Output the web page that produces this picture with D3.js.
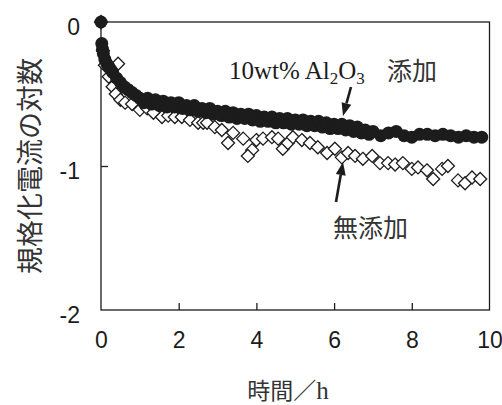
<!DOCTYPE html>
<html>
<head>
<meta charset="utf-8">
<script src="https://cdn.jsdelivr.net/npm/d3@7"></script>
<style>
  html, body { margin: 0; padding: 0; background: #fff; }
  svg { display: block; }
</style>
</head>
<body>
<svg id="chart" width="502" height="405"></svg>
<script>
// Normalized current (log) vs. time, with and without 10wt% Al2O3
const xTicks = [0, 2, 4, 6, 8, 10];
const yTicks = [0, -1, -2];

// 10wt% Al2O3 added (filled circles)
const aluminaTime = [0, 0.02, 0.04, 0.06, 0.1, 0.15, 0.2, 0.25, 0.3, 0.4, 0.5, 0.6, 0.7, 0.8, 0.9,
  1.0, 1.1, 1.2, 1.3, 1.4, 1.5, 1.6, 1.7, 1.8, 1.9,
  2.0, 2.1, 2.2, 2.3, 2.4, 2.5, 2.6, 2.7, 2.8, 2.9,
  3.0, 3.1, 3.2, 3.3, 3.4, 3.5, 3.6, 3.7, 3.8, 3.9,
  4.0, 4.1, 4.2, 4.3, 4.4, 4.5, 4.6, 4.7, 4.8, 4.9,
  5.0, 5.1, 5.2, 5.3, 5.4, 5.5, 5.6, 5.7, 5.8, 5.9,
  6.0, 6.1, 6.2, 6.3, 6.4, 6.5, 6.6, 6.7, 6.8, 6.9,
  7.0, 7.2, 7.4, 7.6, 7.8, 8.0, 8.2, 8.4, 8.6, 8.8, 9.0, 9.2, 9.4, 9.6, 9.8];
const aluminaValue = [0, -0.15, -0.19, -0.22, -0.26, -0.29, -0.31, -0.33, -0.35, -0.39, -0.42, -0.45, -0.47, -0.49, -0.51,
  -0.53, -0.56, -0.53, -0.57, -0.54, -0.58, -0.55, -0.59, -0.56, -0.59,
  -0.56, -0.60, -0.58, -0.61, -0.58, -0.62, -0.60, -0.63, -0.60, -0.64,
  -0.62, -0.65, -0.62, -0.66, -0.63, -0.67, -0.64, -0.67, -0.64, -0.68,
  -0.65, -0.69, -0.66, -0.69, -0.66, -0.70, -0.67, -0.70, -0.67, -0.71,
  -0.68, -0.71, -0.68, -0.72, -0.69, -0.72, -0.69, -0.73, -0.70, -0.74,
  -0.71, -0.74, -0.71, -0.75, -0.72, -0.76, -0.73, -0.77, -0.75, -0.78,
  -0.76, -0.79, -0.77, -0.76, -0.79, -0.80, -0.78, -0.78, -0.79, -0.78, -0.79, -0.80, -0.79, -0.80, -0.80];

// No additive (open diamonds)
const plainTime = [0, 0.05, 0.1, 0.2, 0.3, 0.44, 0.38, 0.5, 0.62, 0.8, 1.0, 1.19, 1.35, 1.57, 1.73, 1.9,
  2.08, 2.29, 2.5, 2.63, 2.73, 2.93, 3.11, 3.27, 3.4, 3.66, 3.89, 3.78, 4.0, 4.17, 4.4, 4.56, 4.68,
  4.81, 4.94, 5.17, 5.38, 5.58, 5.82, 6.02, 6.2, 6.36, 6.54, 6.74, 6.98, 7.18, 7.39, 7.57, 7.77,
  8.0, 8.16, 8.39, 8.55, 8.78, 8.93, 9.19, 9.37, 9.55, 9.76];
const plainValue = [0, -0.2, -0.3, -0.38, -0.45, -0.29, -0.50, -0.54, -0.56, -0.57, -0.61, -0.60, -0.63, -0.66, -0.65, -0.66,
  -0.66, -0.68, -0.70, -0.70, -0.70, -0.73, -0.75, -0.84, -0.77, -0.81, -0.89, -0.93, -0.82, -0.81, -0.80, -0.81, -0.88,
  -0.84, -0.80, -0.82, -0.84, -0.87, -0.91, -0.88, -0.94, -0.91, -0.93, -0.95, -0.93, -0.98, -0.98, -0.99, -0.98,
  -1.02, -1.01, -1.03, -1.09, -1.02, -1.00, -1.10, -1.12, -1.08, -1.09];

const svg = d3.select("#chart");
const x = d3.scaleLinear().domain([0, 10]).range([101, 489.5]);
const y = d3.scaleLinear().domain([-2, 0]).range([310, 22]);
const ink = "#1c1c1c";
const sans = "'Liberation Sans', Arial, sans-serif";
const serif = "'Liberation Serif', 'Times New Roman', serif";
const cjk = "'Noto Sans CJK JP', sans-serif";

// Frame
svg.append("rect")
  .attr("x", x(0)).attr("y", y(0))
  .attr("width", x(10) - x(0)).attr("height", y(-2) - y(0))
  .attr("fill", "none").attr("stroke", ink).attr("stroke-width", 1.3);

// Bottom axis: inward ticks, labels below
const xAxis = svg.append("g").attr("transform", `translate(0,${y(-2)})`)
  .call(d3.axisBottom(x).tickValues(xTicks).tickFormat(d => String(d))
    .tickSize(-7).tickSizeOuter(0).tickPadding(22));
xAxis.select(".domain").remove();
xAxis.selectAll(".tick line").attr("stroke", ink).attr("stroke-width", 1.3)
  .filter(d => d === 0 || d === 10).remove();
xAxis.selectAll(".tick text")
  .attr("font-family", sans).attr("font-size", 23).attr("fill", ink);

// Left axis
const yAxis = svg.append("g").attr("transform", `translate(${x(0)},0)`)
  .call(d3.axisLeft(y).tickValues(yTicks).tickFormat(d => String(d))
    .tickSize(-7).tickSizeOuter(0).tickPadding(21));
yAxis.select(".domain").remove();
yAxis.selectAll(".tick line").attr("stroke", ink).attr("stroke-width", 1.3)
  .filter(d => d === 0 || d === -2).remove();
yAxis.selectAll(".tick text")
  .attr("font-family", sans).attr("font-size", 23).attr("fill", ink).attr("dy", "0.55em");

// Open diamonds
const half = 6.5;
const diamond = `M0,${-half}L${half},0L0,${half}L${-half},0Z`;
svg.append("g").selectAll("path")
  .data(d3.zip(plainTime, plainValue))
  .join("path")
  .attr("d", diamond)
  .attr("transform", d => `translate(${x(d[0])},${y(d[1])})`)
  .attr("fill", "#fff").attr("stroke", ink).attr("stroke-width", 1.3);

// Filled circles
svg.append("g").selectAll("circle")
  .data(d3.zip(aluminaTime, aluminaValue))
  .join("circle")
  .attr("cx", d => x(d[0])).attr("cy", d => y(d[1]))
  .attr("r", 6.5).attr("fill", ink);

// Arrows pointing at each series
function arrow(x1, y1, x2, y2) {
  const ang = Math.atan2(y2 - y1, x2 - x1);
  const len = 13, w = 5;
  const bx = x2 - len * Math.cos(ang), by = y2 - len * Math.sin(ang);
  svg.append("line").attr("x1", x1).attr("y1", y1).attr("x2", bx).attr("y2", by)
    .attr("stroke", ink).attr("stroke-width", 2.6);
  const px = -Math.sin(ang) * w, py = Math.cos(ang) * w;
  svg.append("path")
    .attr("d", `M${x2},${y2}L${bx + px},${by + py}L${bx - px},${by - py}Z`)
    .attr("fill", ink);
}
arrow(351, 87, 343, 116);
arrow(336, 202, 343, 162);

// Series labels
const lab1 = svg.append("text").attr("x", 229).attr("y", 79)
  .attr("font-family", serif).attr("font-size", 25).attr("fill", ink);
lab1.append("tspan").text("10wt% Al");
lab1.append("tspan").attr("font-size", 17).attr("dy", 5).text("2");
lab1.append("tspan").attr("dy", -5).text("O");
lab1.append("tspan").attr("font-size", 17).attr("dy", 5).text("3");

svg.append("text").attr("x", 387).attr("y", 80)
  .attr("font-family", cjk).attr("font-size", 25).attr("fill", "#333").text("添加");

svg.append("text").attr("x", 333).attr("y", 237)
  .attr("font-family", cjk).attr("font-size", 25).attr("fill", "#333")
  .text("無添加");

// Axis titles
svg.append("text")
  .attr("transform", `translate(40,${(y(0) + y(-2)) / 2}) rotate(-90)`)
  .attr("text-anchor", "middle")
  .attr("font-family", cjk).attr("font-size", 27).attr("fill", "#333")
  .text("規格化電流の対数");

const xt = svg.append("text").attr("x", 288).attr("y", 399).attr("text-anchor", "middle")
  .attr("font-family", cjk).attr("font-size", 23).attr("fill", "#333");
xt.append("tspan").text("時間／");
xt.append("tspan").attr("font-family", serif).attr("font-size", 25).text("h");
</script>
</body>
</html>
